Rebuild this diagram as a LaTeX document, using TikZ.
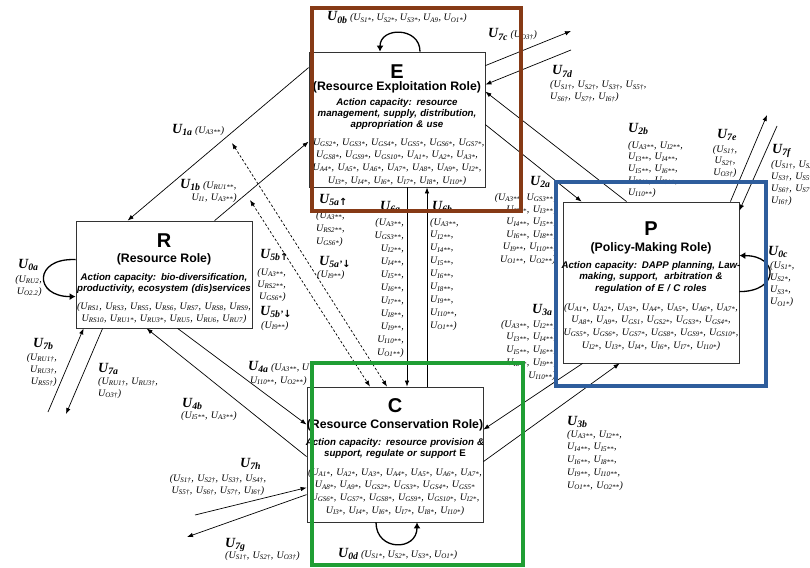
\documentclass[tikz,border=0pt]{standalone}
\usepackage{fontspec}
\setmainfont{Liberation Serif}
\setsansfont{Liberation Sans}
\newfontfamily\arrfont{DejaVu Sans}
\usetikzlibrary{arrows.meta}

\definecolor{roleE}{RGB}{134,58,22}
\definecolor{roleP}{RGB}{46,93,156}
\definecolor{roleC}{RGB}{32,158,52}

% U with a subscript index (variable lists)
\newcommand\Us[1]{U\textsubscript{#1}}
% bold flow label, e.g. U_{2a}
\newcommand\Uhd[1]{{\fontsize{14}{14}\selectfont\bfseries\itshape U\textsubscript{#1}}}
\newcommand\varfont{\itshape\fontsize{10}{12}\selectfont}
\newcommand\upA{{\arrfont ↑}}
\newcommand\dnA{{\arrfont ↓}}

\tikzset{
  rolebox/.style={draw=black!80, line width=0.8pt, fill=white, minimum width=176pt, inner sep=0pt},
  roleframe/.style={line width=4pt},
  flow/.style={line width=0.7pt, -{Latex[length=6pt,width=4.5pt]}},
  selfloop/.style={line width=1.3pt, -{Latex[length=6pt,width=7pt]}},
  dflow/.style={line width=0.7pt, dash pattern=on 2.5pt off 2pt,
    {Latex[length=6pt,width=4.5pt]}-{Latex[length=6pt,width=4.5pt]}},
  letter/.style={font=\sffamily\bfseries\fontsize{20}{20}\selectfont, inner sep=0pt, anchor=base},
  roletitle/.style={font=\sffamily\bfseries\fontsize{12.3}{13}\selectfont, inner sep=0pt, anchor=base},
  capacity/.style={font=\sffamily\bfseries\itshape\fontsize{9.7}{#1}\selectfont, inner sep=0pt,
    anchor=base, text width=200pt, align=center},
  capacity/.default=11,
  vars/.style={font=\itshape\fontsize{10}{#1}\selectfont, inner sep=0pt},
  vars/.default=12.7,
  varsc/.style={vars=#1, anchor=base, text width=200pt, align=center},
  varsc/.default=12.7,
  varsl/.style={vars=#1, anchor=base west, text width=150pt, align=left},
  varsl/.default=12.7,
  varsr/.style={vars=#1, anchor=base east, text width=150pt, align=right},
  varsr/.default=12.7,
  head/.style={inner sep=0pt, anchor=base west},
}

\begin{document}
\begin{tikzpicture}[x=1pt,y=-1pt]
\fill[white] (0,0) rectangle (810,567);
\useasboundingbox (0,0) rectangle (810,567);

% ---------- role boxes ----------
\node[rolebox, minimum height=135pt] (E) at (397,119.5) {};
\node[rolebox, minimum height=107pt] (R) at (164,274.5) {};
\node[rolebox, minimum height=161pt] (P) at (651,282.5) {};
\node[rolebox, minimum height=135pt] (C) at (395,454.5) {};

% E: resource exploitation
\node[letter] (Eletter) at (397,78.5) {E};
\node[roletitle] (Etitle) at (397,90.5) {(Resource Exploitation Role)};
\node[capacity] (Ecap) at (397,106) {Action capacity: resource\\management, supply, distribution,\\appropriation \& use};
\node[varsc] (Evars) at (397,145) {(\Us{GS2*}, \Us{GS3*}, \Us{GS4*}, \Us{GS5*}, \Us{GS6*}, \Us{GS7*},\\\Us{GS8*}, \Us{GS9*}, \Us{GS10*}, \Us{A1*}, \Us{A2*}, \Us{A3*},\\\Us{A4*}, \Us{A5*}, \Us{A6*}, \Us{A7*}, \Us{A8*}, \Us{A9*}, \Us{I2*},\\\Us{I3*}, \Us{I4*}, \Us{I6*}, \Us{I7*}, \Us{I8*}, \Us{I10*})};

% R: resource
\node[letter] (Rletter) at (164,247) {R};
\node[roletitle] (Rtitle) at (164,262) {(Resource Role)};
\node[capacity] (Rcap) at (164,280) {Action capacity: bio-diversification,\\productivity, ecosystem (dis)services};
\node[varsc=12] (Rvars) at (164,309) {(\Us{RS1}, \Us{RS3}, \Us{RS5}, \Us{RS6}, \Us{RS7}, \Us{RS8}, \Us{RS9},\\\Us{RS10}, \Us{RU1*}, \Us{RU3*}, \Us{RU5}, \Us{RU6}, \Us{RU7})};

% P: policy making
\node[letter] (Pletter) at (651,235) {P};
\node[roletitle] (Ptitle) at (651,251) {(Policy-Making Role)};
\node[capacity=11.5] (Pcap) at (651,268) {Action capacity: DAPP planning, Law-\\making, support, \ arbitration \&\\regulation of E / C roles};
\node[varsc] (Pvars) at (651,310) {(\Us{A1*}, \Us{A2*}, \Us{A3*}, \Us{A4*}, \Us{A5*}, \Us{A6*}, \Us{A7*},\\\Us{A8*}, \Us{A9*}, \Us{GS1}, \Us{GS2*}, \Us{GS3*}, \Us{GS4*},\\\Us{GS5*}, \Us{GS6*}, \Us{GS7*}, \Us{GS8*}, \Us{GS9*}, \Us{GS10*},\\\Us{I2*}, \Us{I3*}, \Us{I4*}, \Us{I6*}, \Us{I7*}, \Us{I10*})};

% C: resource conservation
\node[letter] (Cletter) at (395,412) {C};
\node[roletitle] (Ctitle) at (395,428) {(Resource Conservation Role)};
\node[capacity] (Ccap) at (395,445) {Action capacity: resource provision \&\\support, regulate or support {\upshape E}};
\node[varsc] (Cvars) at (395,475) {(\Us{A1*}, \Us{A2*}, \Us{A3*}, \Us{A4*}, \Us{A5*}, \Us{A6*}, \Us{A7*},\\\Us{A8*}, \Us{A9*}, \Us{GS2*}, \Us{GS3*}, \Us{GS4*}, \Us{GS5*}\\\Us{GS6*}, \Us{GS7*}, \Us{GS8*}, \Us{GS9*}, \Us{GS10*}, \Us{I2*},\\\Us{I3*}, \Us{I4*}, \Us{I6*}, \Us{I7*}, \Us{I8*}, \Us{I10*})};

% ---------- free ends of the external flows ----------
\coordinate (o7c) at (571,31);
\coordinate (i7d) at (571,50);
\coordinate (o7e) at (767,115);
\coordinate (i7f) at (777,126);
\coordinate (i7b) at (48,412);
\coordinate (o7a) at (66,414);
\coordinate (i7h) at (195,515);
\coordinate (o7g) at (187,537);
\coordinate (d5a) at (232,143);
\coordinate (d5b) at (250,200);
\coordinate (e6a) at ([xshift=10pt]E.south);
\coordinate (e6b) at ([xshift=30pt]E.south);

% ---------- flows ----------
\draw[flow] ([yshift=-14pt]E.north east) -- (o7c);
\draw[flow] (i7d) -- ([yshift=-33pt]E.north east);
\draw[flow] ([xshift=64pt]P.north west) -- ([yshift=-40pt]E.north east);
\draw[flow] ([yshift=-73pt]E.north east) -- ([xshift=19pt]P.north west);
\draw[flow] ([xshift=-9pt]P.north east) -- (o7e);
\draw[flow] (i7f) -- ([yshift=-9pt]P.north east);
\draw[selfloop] ([yshift=-90pt]P.north east) .. controls +(40,0) and +(40,0) .. ([yshift=-54pt]P.north east);
\draw[flow] ([xshift=20pt]P.south west) -- ([yshift=-43pt]C.north east);
\draw[flow] ([yshift=-75pt]C.north east) -- ([xshift=57pt]P.south west);
\draw[flow] (e6a) -- (e6a |- C.north);
\draw[flow] (e6b |- C.north) -- (e6b);
\draw[selfloop] ([xshift=23pt]E.north) .. controls +(0,-25) and +(0,-25) .. ([xshift=-17pt]E.north);
\draw[flow] ([yshift=-16pt]E.north west) -- ([xshift=52pt]R.north west);
\draw[flow] ([xshift=139pt]R.north west) -- ([yshift=-90pt]E.north west);
\draw[dflow] (d5a) -- ([xshift=-8pt]C.north);
\draw[dflow] (d5b) -- ([xshift=-25pt]C.north);
\draw[selfloop] ([yshift=-39pt]R.north west) .. controls +(-42,-2) and +(-42,0) .. ([yshift=-76pt]R.north west);
\draw[flow] (i7b) -- ([xshift=8pt]R.south west);
\draw[flow] ([xshift=27pt]R.south west) -- (o7a);
\draw[flow] ([xshift=102pt]R.south west) -- ([yshift=-38pt]C.north west);
\draw[flow] ([yshift=-70pt]C.north west) -- ([xshift=71pt]R.south west);
\draw[flow] (i7h) -- ([yshift=-101pt]C.north west);
\draw[flow] ([yshift=-108pt]C.north west) -- (o7g);
\draw[selfloop] ([xshift=-19pt]C.south) .. controls +(0,29) and +(0,29) .. ([xshift=22pt]C.south);

% ---------- flow labels ----------
\node[head] (h0b) at (327,21) {\Uhd{0b} {\varfont (\Us{S1*}, \Us{S2*}, \Us{S3*}, \Us{A9}, \Us{O1*})}};
\node[head] (h7c) at (488,38) {\Uhd{7c} {\varfont (\Us{O3†})}};
\node[head] (h7d) at (552,75) {\Uhd{7d}};
\node[varsl=12] (t7d) at (550,88) {(\Us{S1†}, \Us{S2†}, \Us{S3†}, \Us{S5†},\\\Us{S6†}, \Us{S7†}, \Us{I6†})};
\node[head] (h2b) at (628,132) {\Uhd{2b}};
\node[varsl=11.8] (t2b) at (628,148) {(\Us{A3**}, \Us{I2**},\\\Us{I3**}, \Us{I4**},\\\Us{I5**}, \Us{I6**},\\\Us{I8**}, \Us{I9**},\\\Us{I10**})};
\node[head, anchor=base] (h7e) at (727,138) {\Uhd{7e}};
\node[varsc=11.5] (t7e) at (725,152) {(\Us{S1†},\\\Us{S2†},\\\Us{O3†})};
\node[head] (h7f) at (772,153) {\Uhd{7f}};
\node[varsl=12] (t7f) at (771,167) {(\Us{S1†}, \Us{S2†},\\\Us{S3†}, \Us{S5†},\\\Us{S6†}, \Us{S7†},\\\Us{I6†})};
\node[head] (h2a) at (530,185) {\Uhd{2a}};
\node[varsr=12.4] (t2a) at (556,200) {(\Us{A3**}, \Us{GS3**},\\\Us{I2**}, \Us{I3**},\\\Us{I4**}, \Us{I5**},\\\Us{I6**}, \Us{I8**},\\\Us{I9**}, \Us{I10**},\\\Us{O1**}, \Us{O2**})};
\node[head] (h0c) at (768,255) {\Uhd{0c}};
\node[varsl=12.3] (t0c) at (770,268) {(\Us{S1*},\\\Us{S2*},\\\Us{S3*},\\\Us{O1*})};
\node[head] (h3a) at (532,313) {\Uhd{3a}};
\node[varsr=12.75] (t3a) at (556,327) {(\Us{A3**}, \Us{I2**},\\\Us{I3**}, \Us{I4**},\\\Us{I5**}, \Us{I6**},\\\Us{I8**}, \Us{I9**},\\\Us{I10**})};
\node[head] (h3b) at (567,425) {\Uhd{3b}};
\node[varsl=12.75] (t3b) at (567,437) {(\Us{A3**}, \Us{I2**},\\\Us{I4**}, \Us{I5**},\\\Us{I6**}, \Us{I8**},\\\Us{I9**}, \Us{I10**},\\\Us{O1**}, \Us{O2**})};
\node[head] (h0d) at (338,557) {\Uhd{0d} {\varfont (\Us{S1*}, \Us{S2*}, \Us{S3*}, \Us{O1*})}};
\node[head] (h7g) at (225,547) {\Uhd{7g}};
\node[varsl] (t7g) at (225,558) {(\Us{S1†}, \Us{S2†}, \Us{O3†})};
\node[head] (h7h) at (240,467) {\Uhd{7h}};
\node[varsc=12] (t7h) at (218,481) {(\Us{S1†}, \Us{S2†}, \Us{S3†}, \Us{S4†},\\\Us{S5†}, \Us{S6†}, \Us{S7†}, \Us{I6†})};
\node[head] (h4b) at (182,407) {\Uhd{4b}};
\node[varsl] (t4b) at (181,418) {(\Us{I5**}, \Us{A3**})};
\node[head] (h4a) at (248,370) {\Uhd{4a} {\varfont (\Us{A3**}, U}};
\node[varsl] (t4a) at (250,383) {\Us{I10**}, \Us{O2**})};
\node[head] (h7b) at (33,347) {\Uhd{7b}};
\node[varsr=12] (t7b) at (57,360) {(\Us{RU1†},\\\Us{RU3†},\\\Us{RS5†})};
\node[head] (h7a) at (98,372) {\Uhd{7a}};
\node[varsl=12] (t7a) at (98,384) {(\Us{RU1†}, \Us{RU3†},\\\Us{O3†})};
\node[head] (h0a) at (18,268) {\Uhd{0a}};
\node[varsr=12] (t0a) at (42,282) {(\Us{RU2},\\\Us{O2.2})};
\node[head] (h5b) at (260,258) {\Uhd{5b\upA}};
\node[varsr=12] (t5b) at (286,275) {(\Us{A3**},\\\Us{RS2**},\\\Us{GS6*})};
\node[head] (h5bp) at (260,315) {\Uhd{5b'\dnA}};
\node[varsl] (t5bp) at (261,328) {(\Us{I9**})};
\node[head] (h5a) at (319,203) {\Uhd{5a\upA}};
\node[varsl=13.2] (t5a) at (316,218) {(\Us{A3**},\\\Us{RS2**},\\\Us{GS6*})};
\node[head] (h5ap) at (319,265) {\Uhd{5a'\dnA}};
\node[varsl] (t5ap) at (317,277) {(\Us{I9**})};
\node[head] (h6a) at (380,210) {\Uhd{6a}};
\node[varsr=13] (t6a) at (404,225) {(\Us{A3**},\\\Us{GS3**},\\\Us{I2**},\\\Us{I4**},\\\Us{I5**},\\\Us{I6**},\\\Us{I7**},\\\Us{I8**},\\\Us{I9**},\\\Us{I10**},\\\Us{O1**})};
\node[head] (h6b) at (432,210) {\Uhd{6b}};
\node[varsl=12.9] (t6b) at (430,225) {(\Us{A3**},\\\Us{I2**},\\\Us{I4**},\\\Us{I5**},\\\Us{I6**},\\\Us{I8**},\\\Us{I9**},\\\Us{I10**},\\\Us{O1**})};
\node[head] (h1a) at (172,133) {\Uhd{1a} {\varfont (\Us{A3**})}};
\node[head] (h1b) at (180,188) {\Uhd{1b} {\varfont (\Us{RU1**},}};
\node[varsr] (t1b) at (237,200) {\Us{I1}, \Us{A3**})};

% ---------- role frames ----------
\draw[roleframe, roleE] (312,8) rectangle (521,211);
\draw[roleframe, roleP] (556,182) rectangle (766,386);
\draw[roleframe, roleC] (312,363) rectangle (523,565);
\end{tikzpicture}
\end{document}
